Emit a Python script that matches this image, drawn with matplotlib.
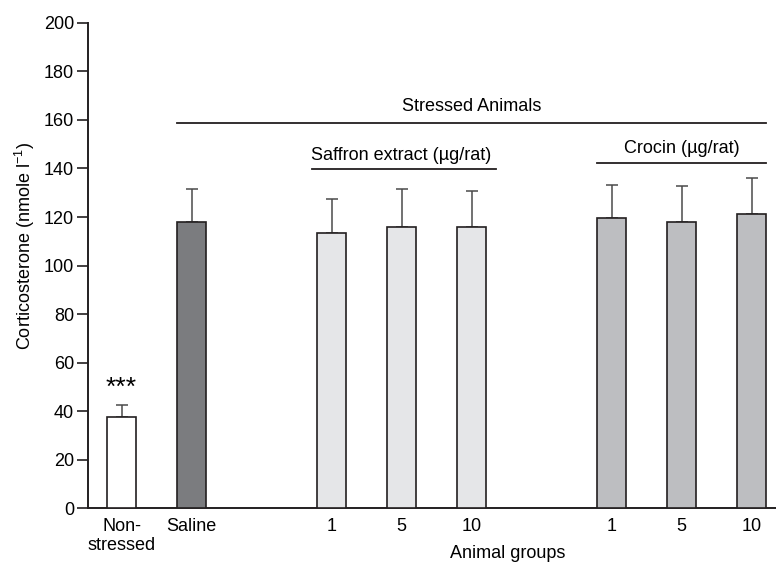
import matplotlib
matplotlib.use('Agg')
import matplotlib.pyplot as plt
from matplotlib import rcParams
import numpy as np

rcParams['font.family'] = 'sans-serif'
rcParams['font.sans-serif'] = ['Liberation Sans', 'DejaVu Sans']
rcParams['font.size'] = 13
rcParams['mathtext.fontset'] = 'custom'
rcParams['mathtext.rm'] = 'Liberation Sans'

# data
groups = ['Non-\nstressed', 'Saline', '1', '5', '10', '1', '5', '10']
positions = [0, 1, 3, 4, 5, 7, 8, 9]
means = [37.7, 118.0, 113.5, 115.9, 115.9, 119.7, 118.0, 121.3]
sem = [5.0, 13.5, 13.9, 15.7, 14.8, 13.7, 14.7, 14.9]
colors = ['#ffffff', '#7b7c7f', '#e5e6e8', '#e5e6e8', '#e5e6e8',
          '#bdbec1', '#bdbec1', '#bdbec1']

width = 0.41
ink = '#231f20'

fig = plt.figure(figsize=(7.76, 5.70), dpi=100)
ax = fig.add_axes([0.1134, 0.108, 0.8866, 0.852])

ax.bar(positions, means, width=width, color=colors, edgecolor=ink,
       linewidth=1.2, zorder=3)
ax.errorbar(positions, means, yerr=[np.zeros(len(sem)), sem], fmt='none',
            ecolor='#4a4a4a', elinewidth=1.1, capsize=4.2, capthick=1.1,
            zorder=2)

ax.set_xlim(-0.48, 9.35)
ax.set_ylim(0, 200)
ax.set_yticks(np.arange(0, 201, 20))
ax.set_xticks(positions)
ax.set_xticklabels(groups, linespacing=1.15)
ax.tick_params(axis='x', length=0, pad=7)
ax.tick_params(axis='y', length=8, width=1.2, color=ink, pad=2, direction='out')

for s in ['top', 'right']:
    ax.spines[s].set_visible(False)
for s in ['left', 'bottom']:
    ax.spines[s].set_linewidth(1.4)
    ax.spines[s].set_color(ink)

ax.set_ylabel('Corticosterone (nmole l$^{\\mathrm{-1}}$)')
ax.yaxis.set_label_coords(-0.074, 0.54)
ax.set_xlabel('Animal groups')
ax.xaxis.set_label_coords(0.61, -0.075)

# significance stars
ax.text(positions[0], 49.5, '***', ha='center', va='center', fontsize=19)

# group brackets
left = positions[1] - width / 2
right = positions[-1] + width / 2
ax.plot([left, right], [158.8, 158.8], color=ink, lw=1.3, clip_on=False)
ax.text((left + right) / 2, 165.5, 'Stressed Animals', ha='center', va='center')

ax.plot([positions[2] - 0.28, positions[4] + 0.35], [139.6, 139.6],
        color=ink, lw=1.3)
ax.text(positions[3], 145.5, 'Saffron extract (\u00b5g/rat)', ha='center',
        va='center')

ax.plot([positions[5] - width / 2, positions[7] + width / 2], [142.2, 142.2],
        color=ink, lw=1.3)
ax.text(positions[6], 148.4, 'Crocin (\u00b5g/rat)', ha='center', va='center')

plt.savefig('out.png', dpi=100)
